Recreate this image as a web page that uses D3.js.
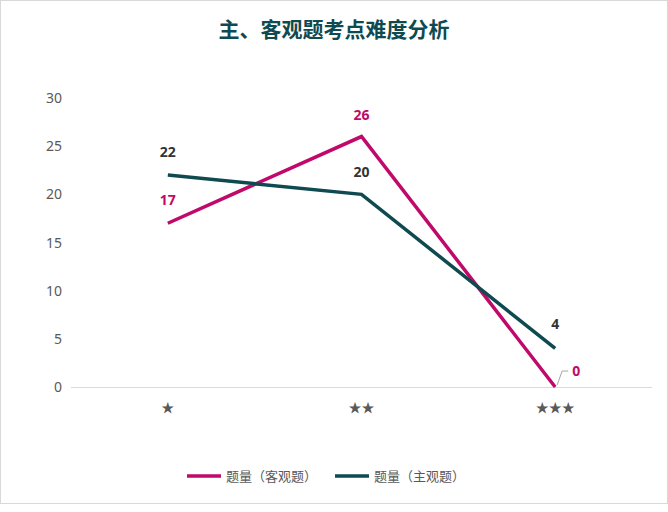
<!DOCTYPE html>
<html><head><meta charset="utf-8">
<script src="https://cdn.jsdelivr.net/npm/d3@7"></script>
<style>body{margin:0;background:#fff;font-family:"Noto Sans CJK SC","Noto Sans",sans-serif}</style>
</head><body><svg id="c" width="668" height="512"></svg>
<script>
const categories=["★","★★","★★★"];
const objective=[17,26,0];
const subjective=[22,20,4];
const yTicks=[0,5,10,15,20,25,30];
const seriesNames=["题量（客观题）","题量（主观题）"];
const colors=["#c0096b","#0e4a4f"];

const svg=d3.select("#c");
svg.append("rect").attr("x",0.5).attr("y",0.5).attr("width",667).attr("height",503).attr("fill","#fff").attr("stroke","#d9d9d9");
svg.append("text").attr("x",334).attr("y",37).attr("text-anchor","middle").attr("font-size",21).attr("font-weight","bold").attr("fill","#0e4a4f").text("主、客观题考点难度分析");
const x=d3.scaleBand().domain(categories).range([71,652]);
const y=d3.scaleLinear().domain([0,30]).range([387,98]);
svg.append("g").selectAll("text").data(yTicks).join("text").attr("x",62).attr("y",d=>y(d)+5).attr("text-anchor","end").attr("font-size",14).attr("fill","#595959").attr("font-family","Noto Sans").text(d=>d);
svg.append("line").attr("x1",71).attr("x2",652).attr("y1",387.5).attr("y2",387.5).attr("stroke","#d9d9d9");
svg.append("g").selectAll("text").data(categories).join("text").attr("x",d=>x(d)+x.bandwidth()/2).attr("y",412).attr("text-anchor","middle").attr("font-size",13).attr("fill","#595959").text(d=>d);
const line=d3.line().x((d,i)=>x(categories[i])+x.bandwidth()/2).y(d=>y(d));
[objective,subjective].forEach((s,k)=>{
  svg.append("path").attr("d",line(s)).attr("fill","none").attr("stroke",colors[k]).attr("stroke-width",3.5);
});
const cx=i=>x(categories[i])+x.bandwidth()/2;
const lab=(t,px,py,c)=>svg.append("text").attr("x",px).attr("y",py).attr("text-anchor","middle").attr("font-size",14).attr("font-weight","bold").attr("fill",c).attr("font-family","Noto Sans").text(t);
lab(objective[0],cx(0),y(objective[0])-18,colors[0]);
lab(objective[1],cx(1),y(objective[1])-17,colors[0]);
lab(subjective[0],cx(0),y(subjective[0])-18,"#333");
lab(subjective[1],cx(1),y(subjective[1])-17,"#333");
lab(subjective[2],cx(2),y(subjective[2])-19,"#333");
svg.append("path").attr("d",`M${cx(2)+2},${y(0)-2}L${cx(2)+7},${y(0)-16}L${cx(2)+13},${y(0)-16}`).attr("fill","none").attr("stroke","#a6a6a6");
lab(objective[2],cx(2)+21,y(0)-11,colors[0]);
const lg=svg.append("g");
[[187,0],[335,1]].forEach(([lx,k])=>{
  lg.append("line").attr("x1",lx).attr("x2",lx+34).attr("y1",476).attr("y2",476).attr("stroke",colors[k]).attr("stroke-width",3.5);
  lg.append("text").attr("x",lx+39).attr("y",481).attr("font-size",13).attr("fill","#595959").text(seriesNames[k]);
});
</script></body></html>
